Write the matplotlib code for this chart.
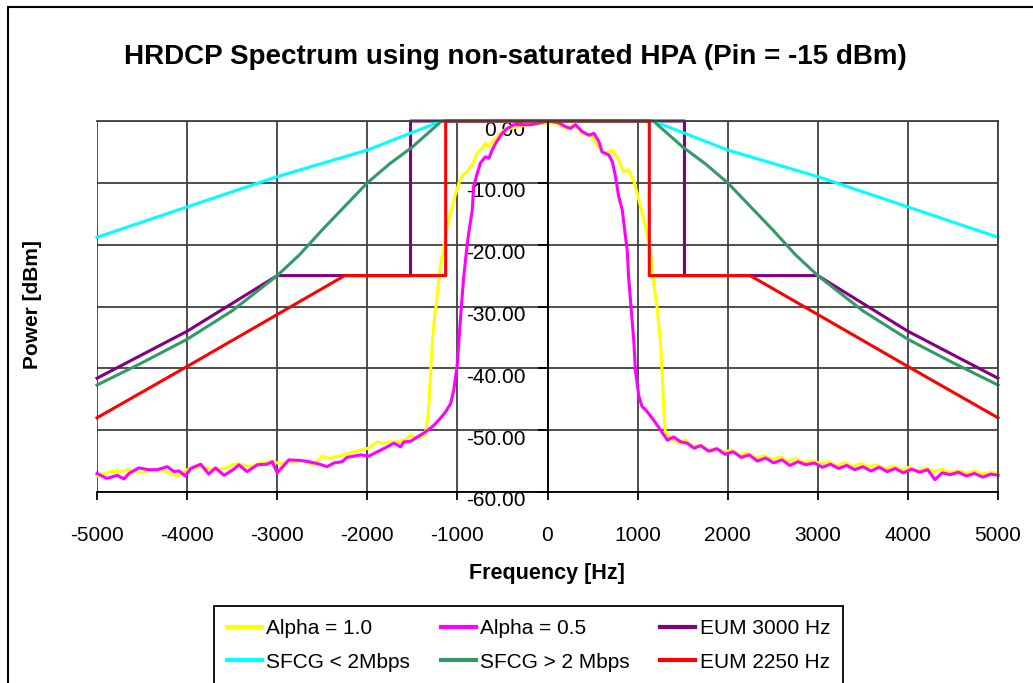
import matplotlib.pyplot as plt
from matplotlib.patches import Rectangle
from matplotlib.transforms import ScaledTranslation

plt.rcParams['font.family'] = ['Liberation Sans', 'DejaVu Sans']
plt.rcParams['axes.unicode_minus'] = False

# ----- Measured spectra ----- #
alpha10_f = [-5000, -4850, -4740, -4630, -4520, -4330, -4165, -4110, -4000, -3850,
             -3700, -3590, -3445, -3300, -3185, -3055, -2965, -2850, -2705, -2595,
             -2500, -2425, -2355, -2260, -2170, -2075, -1985, -1890, -1815, -1745,
             -1650, -1575, -1520, -1445, -1355, -1320, -1300, -1280, -1260, -1225,
             -1190, -1150, -1115, -1075, -1040, -985, -945, -890, -835, -780,
             -725, -690, -650, -595, -540, -485, -410, -320, -210, -80,
             -20, 90, 200, 310, 385, 495, 570, 645, 720, 790,
             845, 900, 960, 1015, 1070, 1105, 1145, 1180, 1220, 1255,
             1275, 1290, 1310, 1370, 1450, 1530, 1620, 1700, 1790, 1870,
             1950, 2040, 2130, 2220, 2310, 2400, 2490, 2580, 2670, 2760,
             2850, 2940, 3030, 3120, 3210, 3300, 3390, 3480, 3570, 3660,
             3750, 3840, 3930, 4020, 4110, 4200, 4290, 4380, 4470, 4560,
             4650, 4740, 4830, 4920, 5000]
alpha10_db = [-57.4, -56.7, -56.7, -56.4, -56.9, -56.2, -57.1, -57.4, -56.4, -55.9,
              -56.4, -56.2, -55.4, -55.9, -55.3, -55.1, -55.4, -55.1, -54.9, -55.6,
              -54.2, -54.6, -54.3, -54.0, -53.6, -53.2, -52.9, -51.9, -52.1, -51.9,
              -51.9, -51.5, -50.8, -51.3, -50.8, -46.7, -41.4, -36.0, -32.7, -28.4,
              -23.6, -20.3, -17.1, -14.9, -12.8, -10.1, -8.7, -8.2, -7.1, -5.2,
              -4.4, -3.6, -4.2, -3.1, -2.3, -1.5, -1.2, -0.9, -0.6, -0.3,
              -0.4, -0.3, -1.2, -0.6, -2.0, -2.5, -4.4, -5.2, -4.7, -6.3,
              -8.2, -7.9, -9.8, -12.8, -16.0, -18.2, -21.4, -26.3, -30.6, -36.0,
              -41.4, -46.7, -50.5, -51.3, -52.0, -51.6, -52.7, -52.4, -53.3, -52.9,
              -53.6, -53.2, -54.0, -53.7, -54.5, -54.1, -54.8, -54.3, -55.0, -54.6,
              -55.3, -54.9, -55.4, -55.1, -55.8, -55.2, -55.9, -55.4, -55.9, -55.6,
              -56.3, -55.8, -56.4, -56.0, -56.6, -56.1, -56.7, -56.3, -56.9, -56.5,
              -57.0, -56.6, -57.1, -56.8, -57.0]

alpha05_f = [-5000, -4890, -4775, -4700, -4645, -4535, -4425, -4330, -4220, -4145,
             -4090, -4020, -3960, -3850, -3760, -3685, -3590, -3480, -3425, -3335,
             -3220, -3110, -3055, -3000, -2870, -2740, -2650, -2555, -2445, -2370,
             -2280, -2225, -2075, -1985, -1890, -1780, -1705, -1630, -1595, -1520,
             -1445, -1355, -1260, -1190, -1130, -1075, -1040, -1000, -985, -965,
             -930, -890, -875, -835, -820, -780, -745, -690, -650, -615,
             -575, -540, -505, -445, -375, -300, -190, -80, 15, 125,
             200, 255, 310, 385, 460, 515, 570, 605, 680, 720,
             755, 790, 830, 865, 885, 900, 930, 960, 975, 1015,
             1050, 1090, 1180, 1255, 1330, 1400, 1480, 1550, 1625, 1700,
             1790, 1880, 1970, 2060, 2150, 2240, 2330, 2420, 2510, 2600,
             2690, 2780, 2870, 2960, 3050, 3140, 3230, 3320, 3410, 3500,
             3590, 3680, 3770, 3860, 3950, 4040, 4130, 4220, 4300, 4380,
             4470, 4560, 4650, 4740, 4830, 4920, 5000]
alpha05_db = [-57.0, -57.8, -57.3, -57.9, -57.0, -56.1, -56.4, -56.4, -55.9, -56.7,
              -56.6, -57.4, -56.2, -55.5, -57.1, -56.1, -57.3, -56.3, -55.6, -56.7,
              -55.6, -55.5, -55.1, -56.9, -54.8, -54.9, -55.1, -55.4, -55.9, -55.3,
              -55.1, -54.4, -54.0, -54.2, -53.5, -52.7, -52.1, -52.7, -51.9, -51.8,
              -51.1, -50.3, -49.2, -48.1, -47.0, -45.7, -43.5, -39.2, -36.0, -31.7,
              -25.2, -19.8, -18.2, -14.4, -10.6, -8.5, -6.8, -5.8, -6.0, -4.7,
              -3.6, -2.8, -2.0, -1.2, -0.6, -0.6, -0.6, -0.3, 0.0, -0.3,
              -0.9, -1.2, -0.6, -1.7, -2.3, -2.0, -3.3, -5.0, -5.5, -6.6,
              -9.0, -12.2, -14.4, -18.7, -20.9, -25.2, -30.6, -36.0, -40.3, -44.6,
              -46.2, -46.7, -48.4, -50.0, -51.6, -51.1, -51.9, -52.1, -52.9, -52.5,
              -53.4, -53.0, -53.9, -53.5, -54.4, -54.0, -55.0, -54.5, -55.3, -54.8,
              -55.7, -55.1, -55.6, -55.3, -56.0, -55.5, -56.2, -55.7, -56.4, -55.9,
              -56.6, -56.0, -56.7, -56.2, -56.9, -56.3, -56.8, -56.4, -58.0, -56.9,
              -57.2, -56.8, -57.4, -57.0, -57.6, -57.1, -57.3]

# ----- Spectrum masks ----- #
eum3000_f = [-5000, -4000, -3000, -1520, -1520, 1520, 1520, 3000, 4000, 5000]
eum3000_db = [-41.6, -34.0, -25.0, -25.0, 0.0, 0.0, -25.0, -25.0, -34.0, -41.6]

sfcg_low_f = [-5000, -4000, -3000, -2000, -1175, 1175, 2000, 3000, 4000, 5000]
sfcg_low_db = [-18.8, -13.9, -9.0, -4.7, 0.0, 0.0, -4.7, -9.0, -13.9, -18.8]

sfcg_high_f = [-5000, -4500, -4000, -3500, -3000, -2750, -2500, -2250, -2000, -1750,
               -1500, -1175, 1175, 1500, 1750, 2000, 2250, 2500, 2750, 3000,
               3500, 4000, 4500, 5000]
sfcg_high_db = [-42.7, -39.1, -35.3, -30.7, -25.0, -21.6, -17.6, -13.8, -10.0, -6.9,
                -4.2, 0.0, 0.0, -4.2, -6.9, -10.0, -13.8, -17.6, -21.6, -25.0,
                -30.7, -35.3, -39.1, -42.7]

eum2250_f = [-5000, -4000, -3000, -2250, -1130, -1130, 1130, 1130, 2250, 3000, 4000, 5000]
eum2250_db = [-48.0, -39.7, -31.3, -25.0, -25.0, 0.0, 0.0, -25.0, -25.0, -31.3, -39.7, -48.0]

# ----- Figure ----- #
fig = plt.figure(figsize=(10.33, 6.83), dpi=100)
ax = fig.add_axes([97/1033, 1-492/683, 901/1033, 371/683])

lw = 2.2
l1, = ax.plot(alpha10_f, alpha10_db, color='#FFFF00', lw=lw, clip_on=False, label='Alpha = 1.0')
l2, = ax.plot(alpha05_f, alpha05_db, color='#FF00FF', lw=lw, clip_on=False, label='Alpha = 0.5')
l3, = ax.plot(eum3000_f, eum3000_db, color='#800080', lw=lw, clip_on=False, label='EUM 3000 Hz')
l4, = ax.plot(sfcg_low_f, sfcg_low_db, color='#00FFFF', lw=lw, clip_on=False, label='SFCG < 2Mbps')
l5, = ax.plot(sfcg_high_f, sfcg_high_db, color='#339966', lw=lw, clip_on=False, label='SFCG > 2 Mbps')
l6, = ax.plot(eum2250_f, eum2250_db, color='#FF0000', lw=lw, clip_on=False, label='EUM 2250 Hz')

ax.set_xlim(-5000, 5000)
ax.set_ylim(-60, 0)
ax.set_xticks(range(-5000, 5001, 1000))
ax.set_yticks(range(-60, 1, 10))
ax.set_yticklabels(['%.2f' % v for v in range(-60, 1, 10)])
ax.grid(True, color='#404040', lw=1.3)
ax.set_axisbelow(True)

# y axis sits at zero frequency, like Excel
ax.spines['left'].set_position(('data', 0))
ax.spines['left'].set_color('black')
ax.spines['left'].set_linewidth(1.3)
ax.spines['bottom'].set_color('black')
ax.spines['bottom'].set_linewidth(1.3)
for s in ['top', 'right']:
    ax.spines[s].set_color('#404040')
    ax.spines[s].set_linewidth(1.3)

ax.tick_params(axis='y', direction='out', length=7, width=1.3, pad=9, labelsize=15)
ax.tick_params(axis='x', direction='out', length=6, width=1.3, pad=18.5, labelsize=15)
for lab in ax.get_yticklabels():
    lab.set_transform(lab.get_transform() + ScaledTranslation(0, -0.07, fig.dpi_scale_trans))

fig.text(515/1033, 1-57/683, 'HRDCP Spectrum using non-saturated HPA (Pin = -15 dBm)',
         ha='center', va='center', fontsize=20, fontweight='bold')
fig.text(547/1033, 1-574/683, 'Frequency [Hz]', ha='center', va='center',
         fontsize=15.5, fontweight='bold')
fig.text(32/1033, 1-305/683, 'Power [dBm]', ha='center', va='center', rotation=90,
         fontsize=15, fontweight='bold')

# legend is row-major in Excel, matplotlib fills columns
handles = [l1, l4, l2, l5, l3, l6]
leg = fig.legend(handles=handles, ncol=3, loc='upper left',
                 bbox_to_anchor=(214/1033, 1-606/683), fontsize=15,
                 frameon=True, fancybox=False, edgecolor='black', framealpha=1,
                 handlelength=1.7, handletextpad=0.2, columnspacing=1.45,
                 borderpad=0.62, labelspacing=0.7, borderaxespad=0)
leg.get_frame().set_linewidth(1.3)
for h in leg.get_lines():
    h.set_linewidth(3)

# chart area border
fig.add_artist(Rectangle((8/1033, -0.5), 2, 0.5 + 1 - 7/683, transform=fig.transFigure,
                         fill=False, edgecolor='black', lw=1.5))

fig.savefig('out.png', dpi=100)
